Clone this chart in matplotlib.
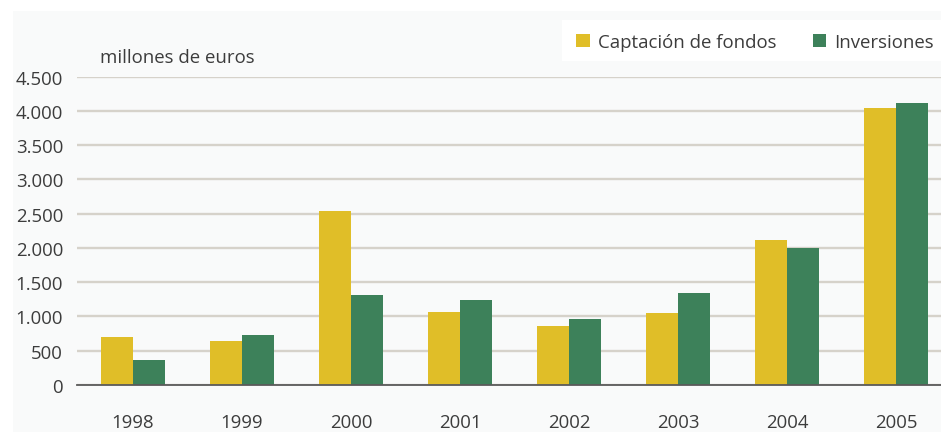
import matplotlib
matplotlib.use("Agg")
import matplotlib.pyplot as plt
from matplotlib.patches import Rectangle
import numpy as np

years = ["1998", "1999", "2000", "2001", "2002", "2003", "2004", "2005"]
captacion = [700, 645, 2540, 1065, 860, 1050, 2120, 4045]
inversiones = [365, 730, 1315, 1240, 965, 1345, 2000, 4115]
series_names = ["Captación de fondos", "Inversiones"]
yticks = [0, 500, 1000, 1500, 2000, 2500, 3000, 3500, 4000, 4500]
ytick_labels = ["0", "500", "1.000", "1.500", "2.000", "2.500", "3.000", "3.500", "4.000", "4.500"]
unit_label = "millones de euros"

YELLOW = "#e0be28"
GREEN = "#3d815a"
GRID = "#d6d2ca"
TEXT = "#3c3c3c"
PANEL = "#f9fafa"
FS = 13.4

plt.rcParams["font.family"] = ["Open Sans", "DejaVu Sans"]

W, H = 941, 435
fig = plt.figure(figsize=(W / 100, H / 100), dpi=100)
fig.patch.set_facecolor("white")

# light panel behind the chart
fig.patches.append(Rectangle((13 / W, 2 / H), 1 - 13 / W, (433 - 12) / H,
                             transform=fig.transFigure, facecolor=PANEL,
                             edgecolor="none", zorder=-10))
# white strip holding the legend
fig.patches.append(Rectangle((562 / W, 1 - 62 / H), 1 - 562 / W, 41 / H,
                             transform=fig.transFigure, facecolor="white",
                             edgecolor="none", zorder=-5))

ax = fig.add_axes([77 / W, 1 - 386 / H, (W - 77) / W, (386 - 77.7) / H])
ax.set_facecolor("none")
ax.set_zorder(1)

x = np.arange(len(years))
bw = 0.292
b1 = ax.bar(x - bw / 2, captacion, bw, color=YELLOW, label=series_names[0], zorder=3)
b2 = ax.bar(x + bw / 2, inversiones, bw, color=GREEN, label=series_names[1], zorder=3)

ax.set_xlim(-0.514, 7.41)
ax.set_ylim(0, 4500)
ax.set_yticks(yticks)
ax.set_yticklabels(ytick_labels)
ax.set_xticks(x)
ax.set_xticklabels(years)
ax.yaxis.grid(True, color=GRID, linewidth=1.7, zorder=1)
ax.set_axisbelow(True)
for s in ["top", "right", "left"]:
    ax.spines[s].set_visible(False)
ax.spines["bottom"].set_color("#5a5a5a")
ax.spines["bottom"].set_linewidth(1.3)
ax.spines["bottom"].set_zorder(4)
ax.tick_params(axis="both", length=0, labelsize=FS, colors=TEXT)
ax.tick_params(axis="y", pad=10)
ax.tick_params(axis="x", pad=20)

fig.text(100 / W, 1 - 58 / H, unit_label, fontsize=FS, color=TEXT,
         ha="left", va="center")

leg = fig.legend(handles=[b1, b2], loc="center right",
                 bbox_to_anchor=(941 / W, 1 - 43 / H), ncol=2, frameon=False,
                 fontsize=FS, handlelength=0.75, handleheight=0.75,
                 handletextpad=0.4, columnspacing=1.95, borderaxespad=0)
for t in leg.get_texts():
    t.set_color(TEXT)

fig.savefig("out.png", dpi=100)
